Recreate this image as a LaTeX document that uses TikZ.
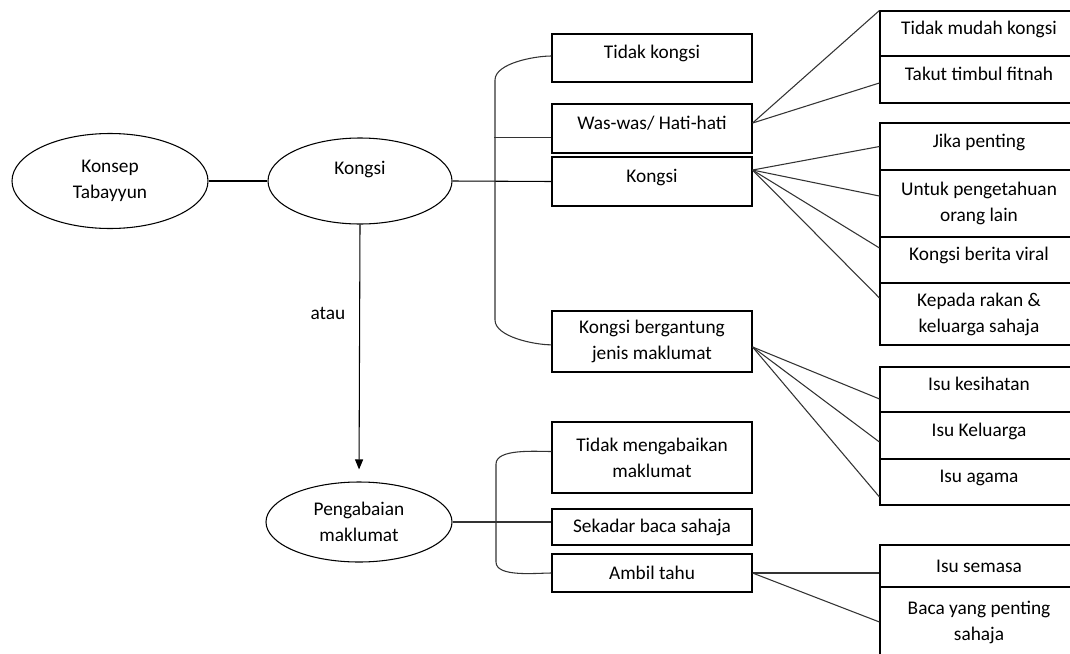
\documentclass[tikz,border=0pt]{standalone}
\usepackage{fontspec}
\setmainfont{Carlito}
\usetikzlibrary{arrows.meta,shapes.geometric}

\begin{document}
\begin{tikzpicture}[x=0.75pt,y=-0.75pt,line width=0.8pt,
        every node/.style={font=\fontsize{14.5}{19.5}\selectfont,align=center},
        bulat/.style={draw,ellipse,inner sep=0pt},
        kotak/.style={draw,rectangle,minimum width=150pt,inner sep=2pt},
        kotakkanan/.style={draw,rectangle,minimum width=148.5pt,inner sep=2pt},
        naik/.style={text height=10pt,text depth=9pt},
        garis/.style={draw=black!80}]
        \clip (0,0) rectangle (1070,653);

        % ellipses
        \node[bulat,minimum width=147pt,minimum height=71.25pt] (konsep) at (110,181) {Konsep\\Tabayyun};
        \node[bulat,minimum width=138pt,minimum height=64.5pt,text depth=19pt] (kongsi) at (360,181) {Kongsi};
        \node[bulat,minimum width=139.5pt,minimum height=60pt] (pengabaian) at (359,522) {Pengabaian\\maklumat};
        \node (atau) at (328,313) {atau};

        % middle column
        \node[kotak,naik,minimum height=36pt] (tidakkongsi) at (652,58) {Tidak kongsi};
        \node[kotak,naik,minimum height=36.75pt] (waswas) at (652,128.5) {Was-was/ Hati-hati};
        \node[kotak,naik,minimum height=36.75pt] (kongsib) at (652,181.5) {Kongsi};
        \node[kotak,minimum height=45.75pt] (bergantung) at (652,341.5) {Kongsi bergantung\\jenis maklumat};
        \node[kotak,minimum height=53.25pt] (tidakabai) at (652,457.5) {Tidak mengabaikan\\maklumat};
        \node[kotak,minimum height=27pt] (sekadar) at (652,527) {Sekadar baca sahaja};
        \node[kotak,minimum height=28.5pt] (ambil) at (652,573) {Ambil tahu};

        % right column
        \node[kotakkanan,naik,minimum height=33.75pt] (tidakmudah) at (979,33.5) {Tidak mudah kongsi};
        \node[kotakkanan,naik,minimum height=35.25pt] (takut) at (979,79.5) {Takut timbul fitnah};
        \node[kotakkanan,naik,minimum height=35.25pt] (jika) at (979,146.5) {Jika penting};
        \node[kotakkanan,minimum height=50.25pt] (untuk) at (979,203.5) {Untuk pengetahuan\\orang lain};
        \node[kotakkanan,naik,minimum height=34.5pt] (viral) at (979,260) {Kongsi berita viral};
        \node[kotakkanan,minimum height=46.5pt] (kepada) at (979,314) {Kepada rakan \&\\keluarga sahaja};
        \node[kotakkanan,naik,minimum height=33.75pt] (kesihatan) at (979,389.5) {Isu kesihatan};
        \node[kotakkanan,naik,minimum height=35.25pt] (keluarga) at (979,435.5) {Isu Keluarga};
        \node[kotakkanan,naik,minimum height=34.5pt] (agama) at (979,482) {Isu agama};
        \node[kotakkanan,minimum height=31.5pt] (semasa) at (979,566) {Isu semasa};
        \node[kotakkanan,minimum height=52.5pt] (baca) at (979,622) {Baca yang penting\\sahaja};

        % connectors
        \draw (konsep.east) -- (kongsi.west);
        \draw (kongsi.east) -- (kongsib.west);
        \draw[-{Triangle[length=7.5pt,width=6pt]},shorten >=9pt] (kongsi.south) -- (pengabaian.north);

        \draw[garis] ([yshift=1.5pt]tidakkongsi.west) to[out=180,in=90,looseness=0.7] (495,80)
            -- (495,320) to[out=-90,in=180,looseness=0.7] ([yshift=-2.5pt]bergantung.west);
        \draw[garis] ([yshift=-6.4pt]waswas.west) -- ++(-57,0);

        \draw[garis] (pengabaian.east) -- (pengabaian.east -| sekadar.west);
        \draw[garis] ([yshift=4.5pt]tidakabai.west) to[out=180,in=90,looseness=0.7] (496,464)
            -- (496,562) to[out=-90,in=180,looseness=0.7] (ambil.west);

        \draw[garis] ([yshift=4.1pt]waswas.east) -- (tidakmudah.north west);
        \draw[garis] ([yshift=4.1pt]waswas.east) -- ([yshift=-2.6pt]takut.west);

        \draw[garis] ([yshift=8.6pt]kongsib.east) -- (jika.west);
        \draw[garis] ([yshift=8.6pt]kongsib.east) -- ([yshift=5.6pt]untuk.west);
        \draw[garis] ([yshift=8.6pt]kongsib.east) -- ([yshift=9pt]viral.west);
        \draw[garis] ([yshift=8.6pt]kongsib.east) -- ([yshift=12pt]kepada.west);

        \draw[garis] ([yshift=-4.1pt]bergantung.east) -- ([yshift=-7.1pt]kesihatan.west);
        \draw[garis] ([yshift=-4.1pt]bergantung.east) -- ([yshift=-4.9pt]keluarga.west);
        \draw[garis] ([yshift=-4.1pt]bergantung.east) -- ([yshift=-11.25pt]agama.west);

        \draw[garis] (ambil.east) -- ([yshift=-5.25pt]semasa.west);
        \draw[garis] (ambil.east) -- (baca.west);
\end{tikzpicture}
\end{document}
